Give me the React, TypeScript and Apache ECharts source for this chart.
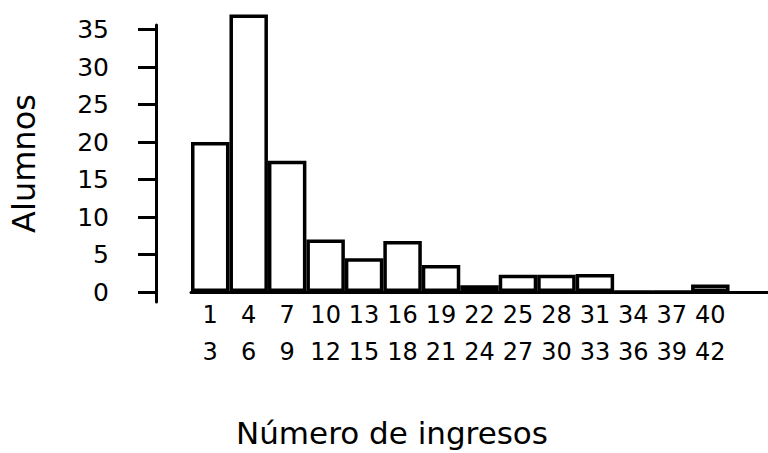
import React, { useEffect, useRef } from "react";
import * as echarts from "echarts";

const binStarts = [1, 4, 7, 10, 13, 16, 19, 22, 25, 28, 31, 34, 37, 40];
const binEnds = [3, 6, 9, 12, 15, 18, 21, 24, 27, 30, 33, 36, 39, 42];
const alumnos = [20, 37, 17.5, 7, 4.5, 6.8, 3.6, 0.9, 2.3, 2.3, 2.4, 0, 0, 1];
const yTicks = [0, 5, 10, 15, 20, 25, 30, 35];
const xName = "Número de ingresos";
const yName = "Alumnos";

const FONT = "DejaVu Sans";

export default function App() {
  const ref = useRef<HTMLDivElement>(null);
  useEffect(() => {
    const chart = echarts.init(ref.current!, null, { renderer: "svg" });
    const categories = [...binStarts.map((s, i) => `${s}\n${binEnds[i]}`), ""];
    chart.setOption({
      animation: false,
      backgroundColor: "#ffffff",
      textStyle: { fontFamily: FONT },
      grid: { left: 190, right: 0, top: 25, bottom: 151, containLabel: false },
      xAxis: {
        type: "category",
        data: categories,
        boundaryGap: true,
        axisLine: { onZero: true, lineStyle: { color: "#000", width: 3 } },
        axisTick: { show: false },
        axisLabel: {
          interval: 0,
          color: "#000",
          fontFamily: FONT,
          fontSize: 24,
          lineHeight: 37,
          margin: -6,
        },
        splitLine: { show: false },
      },
      yAxis: {
        type: "value",
        min: -1.33,
        max: 35.6,
        offset: 35,
        name: yName,
        nameLocation: "middle",
        nameGap: 116,
        nameRotate: 90,
        nameTextStyle: { color: "#000", fontSize: 32, fontFamily: FONT },
        axisLine: { show: true, lineStyle: { color: "#000", width: 3 } },
        axisTick: {
          show: true,
          length: 18,
          inside: false,
          customValues: yTicks,
          lineStyle: { color: "#000", width: 3 },
        },
        axisLabel: {
          color: "#000",
          fontFamily: FONT,
          fontSize: 25,
          margin: 47,
          customValues: yTicks,
        },
        splitLine: { show: false },
      },
      graphic: [
        {
          type: "text",
          x: 392,
          y: 433,
          style: {
            text: xName,
            fontSize: 31,
            fontFamily: FONT,
            fill: "#000",
            align: "center",
            verticalAlign: "middle",
            textAlign: "center",
            textVerticalAlign: "middle",
          },
        },
      ],
      series: [
        {
          type: "bar",
          data: alumnos,
          barCategoryGap: "0%",
          clip: false,
          itemStyle: { color: "#ffffff", borderColor: "#000", borderWidth: 3.5 },
        },
      ],
    });
    return () => chart.dispose();
  }, []);
  return (
    <div
      ref={ref}
      style={{ position: "fixed", left: 0, top: 0, width: 768, height: 453 }}
    />
  );
}
